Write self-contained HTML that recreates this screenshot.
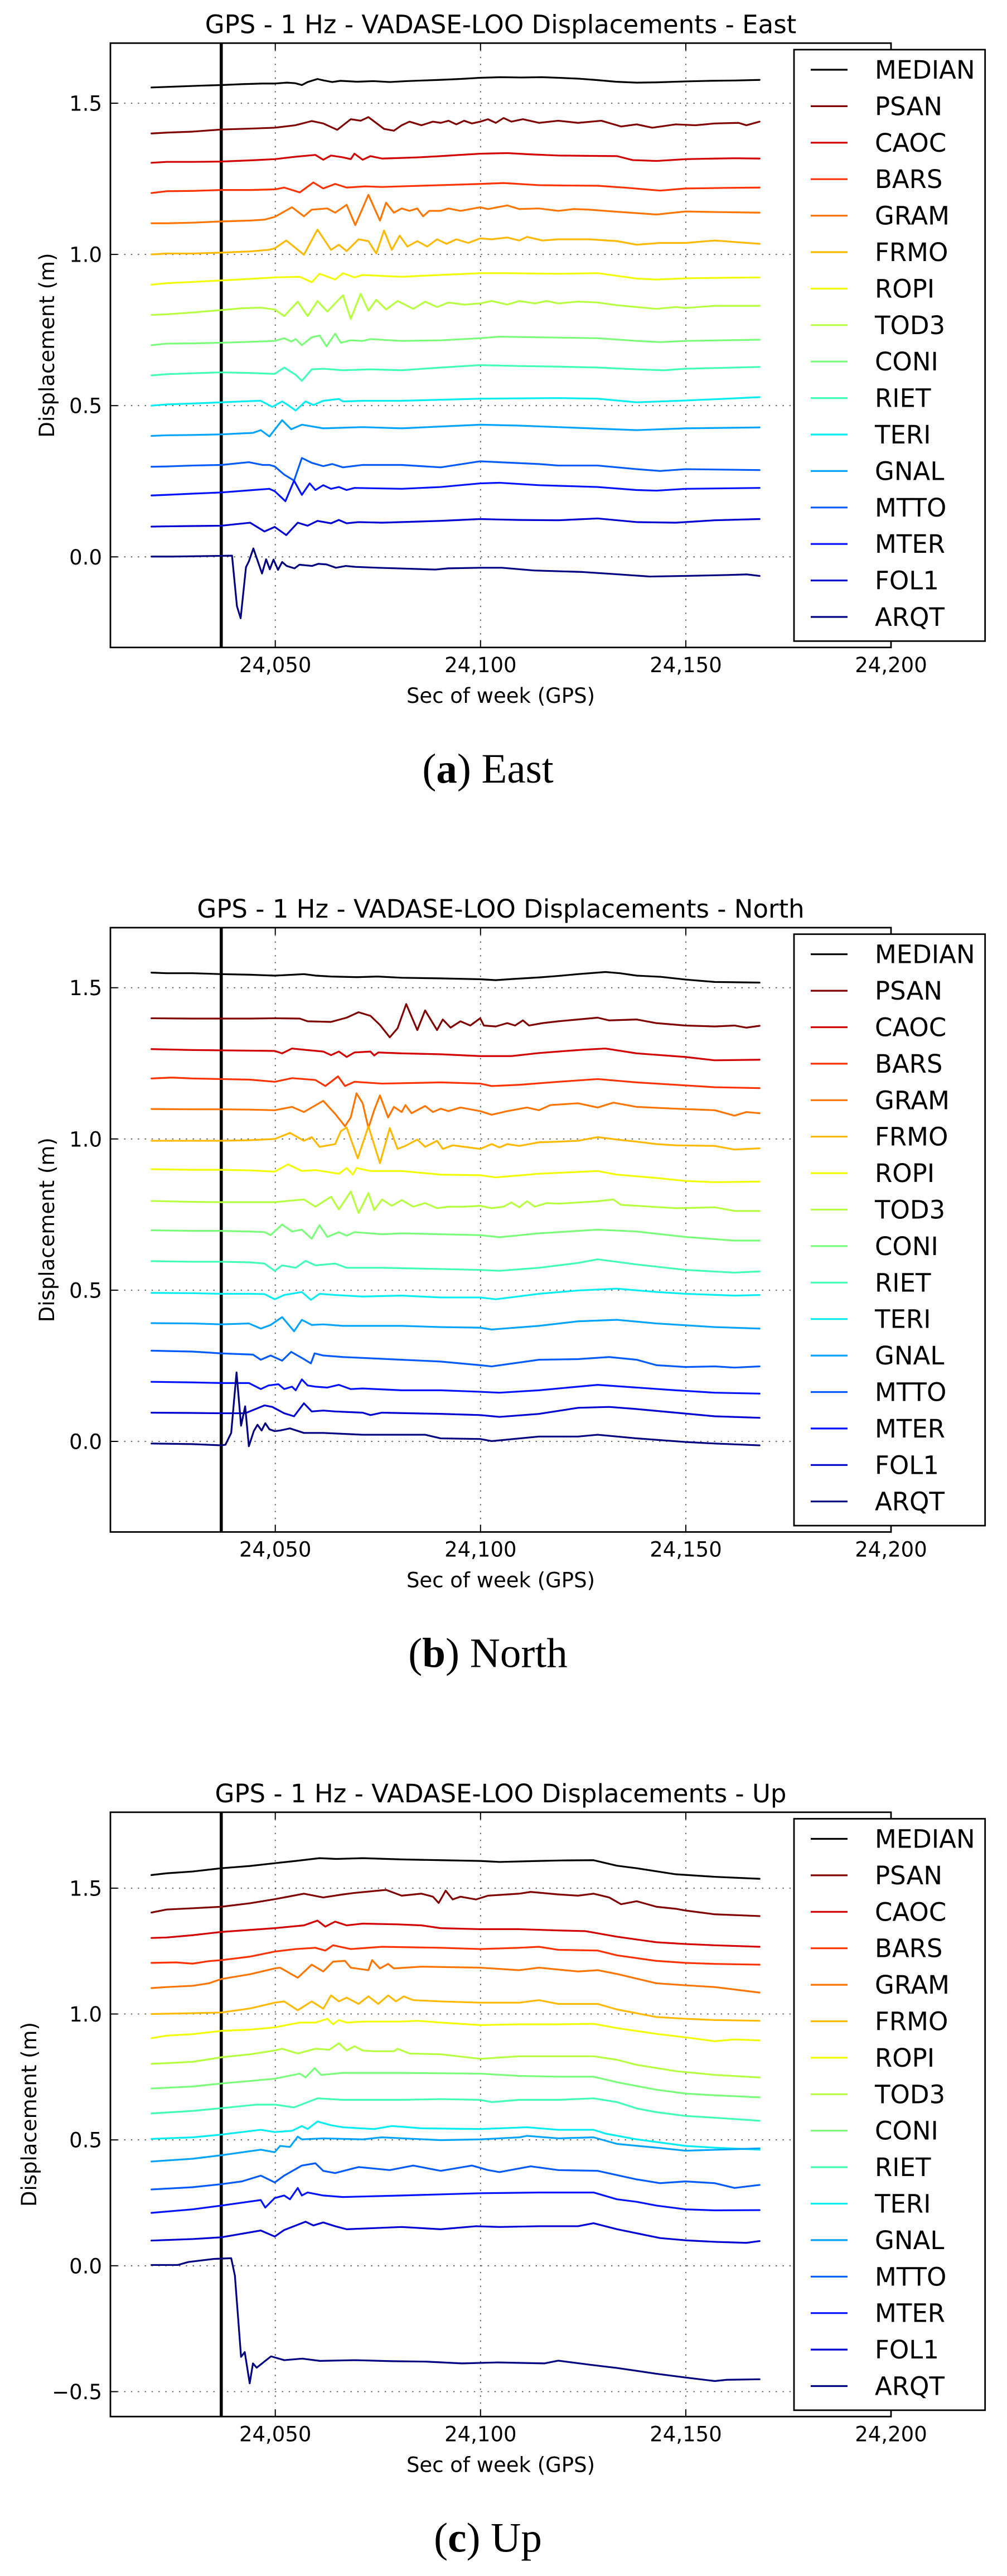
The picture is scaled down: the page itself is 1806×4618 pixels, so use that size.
<!DOCTYPE html>
<html><head><meta charset="utf-8">
<style>
html,body{margin:0;padding:0;background:#fff;}
svg{display:block;}
text{font-family:"DejaVu Sans","Liberation Sans",sans-serif;fill:#000;}
.tk{font-size:37px;}
.tl{font-size:45px;}
.lg{font-size:45px;}
.cap{font-family:"Liberation Serif",serif;font-size:75px;}
.d polyline{fill:none;stroke-width:3.2;vector-effect:non-scaling-stroke;stroke-linejoin:round;stroke-linecap:round;}
.g line{stroke:#333;stroke-width:1.8;stroke-dasharray:2.4 9.9;opacity:.85;}
.t line{stroke:#000;stroke-width:2;}
.lgd line{stroke-width:3.2;}
</style></head>
<body>
<svg width="1806" height="4618" viewBox="0 0 1806 4618" xmlns="http://www.w3.org/2000/svg">
<rect width="1806" height="4618" fill="#fff"/>

<!-- ================= PANEL A ================= -->
<g>
<g class="g">
<line x1="198" y1="185" x2="1598" y2="185"/><line x1="198" y1="456.1" x2="1598" y2="456.1"/><line x1="198" y1="727.2" x2="1598" y2="727.2"/><line x1="198" y1="998.3" x2="1598" y2="998.3"/>
<line x1="493.7" y1="77.3" x2="493.7" y2="1160.7"/><line x1="861.8" y1="77.3" x2="861.8" y2="1160.7"/><line x1="1230" y1="77.3" x2="1230" y2="1160.7"/>
</g>
<line x1="396.8" y1="77.3" x2="396.8" y2="1160.7" stroke="#000" stroke-width="5.5"/>
<g class="d" transform="matrix(7.3684,0,0,-5.422,124.32,998.3)">
<polyline stroke="#000000" points="20,155.2 26,155.5 32,155.8 37,156 42,156.3 47,156.5 50,156.5 53,156.8 55,156.6 56.6,156 58,157 60.4,158 62,157.5 64,157 66,157.4 70,157.1 74,157.3 78,157 82,157.3 86,157.5 90,157.7 95,158 100,158.4 105,158.6 110,158.5 115,158.6 119,158.4 124,158.1 128,157.7 133,157.1 138,156.8 143,156.9 150,157.2 156,157.4 162,157.5 168,157.7"/>
<polyline stroke="#800000" points="20,140 24,140.3 30,140.6 37,141.3 44,141.6 50,141.9 55,142.7 59,144.1 61.8,143.3 65.2,141.2 68.5,144.7 70.9,144.2 72.8,145.4 76.6,141.5 79,140.9 80.9,142.7 82.8,143.9 85.7,142.7 88.5,143.9 90.4,143.5 92.3,144.2 94.2,143 96.1,144.2 98,143.3 100,143.9 101.9,144.7 103.8,143.5 105.7,145.1 107.6,143.9 110.4,144.7 114.3,143.5 119,144.2 123.8,143.5 129.5,144.2 134.3,142.3 138.1,143 141.9,141.9 147.6,143 152.4,142.7 157.1,143.3 162.9,143.5 164.8,142.7 168,143.9"/>
<polyline stroke="#d20000" points="20,130.3 23.7,130.6 30,130.6 37,130.7 44,131.1 50,131.5 55.1,132.3 59.9,132.9 61.8,131.3 63.7,132.7 66.6,132.1 68.5,131.5 69.4,133.3 71.4,131.3 73.3,132.5 76.1,131.7 80.9,131.9 85,132.1 90.4,132.5 95,132.9 100,133.3 106.6,133.5 112,133.1 119,132.7 126,132.6 133.3,132.5 137.1,131.2 142.9,130.9 150,131.5 157.1,131.7 162,131.8 168,131.7"/>
<polyline stroke="#ff3200" points="20,120.3 23.7,120.9 30,121 37,121.3 44,121.3 50,121.5 52.3,122.1 56.1,120.5 59.4,123.8 61.8,121.8 64.7,123.3 67.5,122.1 72,122.5 76.1,122.3 83,122.6 90.4,122.9 100,123.3 105.7,123.6 114.3,122.9 120,122.8 128.6,122.7 136,122 143.8,121.1 150,121.8 160,122 168,122.1"/>
<polyline stroke="#ff7500" points="20,110.3 23.7,110.3 30,110.5 37,110.9 44,111.2 47.5,111.5 50,112.4 54.2,115.6 57.1,112.6 59,114.8 62.8,115.2 64.7,113.8 67.5,116.4 69.6,109.7 72.8,119.7 75.6,111.2 77.1,117.1 79,113.8 80.9,115.2 82.8,114.4 84.7,115.2 86.1,112.6 87.6,114.4 90.4,114.4 92.3,115.2 95.2,114.4 100,115.6 101.9,115 106.6,116.2 109.5,115 114.3,115.2 119,114.4 122.8,115 126.6,114.8 133.3,114.1 142.9,113.2 150,114.2 158,114 168,113.8"/>
<polyline stroke="#ffb900" points="20,100 23.7,100.3 30,100.3 37,100.6 44,101 48.5,101.5 50,102 52.8,104.6 57.1,99.9 60.4,108.2 63.7,101.5 65.6,103.2 67.5,101.1 70.4,105 72.8,104.4 74.7,100.3 76.6,107.9 78.5,101.5 80.4,106.2 82.3,102.6 84.7,104.4 87.1,102.6 89.5,105 91.8,103.5 94.2,105 97.1,103.8 100,105.3 102.8,105 106.6,105.6 109.5,104.6 111.4,105.8 115.2,104.6 119,105 126.6,105 133.3,104.4 138.1,103.2 143.8,103.8 150,103.8 157.1,104.6 168,103.5"/>
<polyline stroke="#f1fc06" points="20,90 23.7,90.5 30,90.9 37,91.4 44,91.9 50,92.4 56.1,92.6 59,90.8 60.9,93.6 64.7,91.7 66.6,93.8 69.4,92.4 71.4,93.2 80.9,92.6 90,93.2 100,93.8 106.6,93.8 119,93.6 128.6,93.8 138.1,92 142.9,91.7 150,92.1 160,92.3 168,92.4"/>
<polyline stroke="#b6ff41" points="20,80 23.7,80.2 30,80.8 37,81.6 42,82.2 46.6,82.4 50,81.8 52.3,79.6 55.6,84.4 58,79.6 60.4,84.6 62.8,81.1 66.6,86.5 68.5,78.7 70.9,87 72.8,81.4 74.7,85 77.1,81.8 79.9,84.6 83.7,82 86.6,84.4 89.5,82.6 92.3,84.1 96.1,83.4 100,83.8 102.8,84.6 106.6,83.4 109.5,84.6 113.3,83.8 116.2,84.6 119,83.8 123.8,84.4 128.6,84.1 133.3,83.2 142.9,82 147.6,82.6 150,82.3 157.1,83 168,83"/>
<polyline stroke="#7bff7b" points="20,70 23.7,70.5 30,70.6 37,70.8 44,71.1 50,71.4 52.3,72.3 54,71.2 55.1,72 56.6,70 59,72.6 60.9,73.2 62.6,69.6 64.7,73.8 66.1,70.8 68.5,71.6 71.4,71.4 73.3,72 80.9,71.4 90.4,71.6 100,72.3 104.7,72.8 114.3,72.6 128.6,72.3 138.1,71.4 143.8,71 150,71.4 168,71.8"/>
<polyline stroke="#41ffb6" points="20,60 23.7,60.4 30,60.7 37,61 44,60.8 50,60.5 52.3,62.6 55.1,60.2 56.6,58.2 59,62 61.8,62.2 66.6,61.7 73.3,62 80.9,61.7 90.4,62.6 100,63.4 109.5,63.1 119,62.9 128.6,62.6 138.1,62 144.8,61.7 150,62.2 168,62.8"/>
<polyline stroke="#06edf1" points="20,50 23.7,50.4 30,50.7 37,51.1 44,51.5 46.6,51.6 49.4,49.6 51.8,51.4 53.2,50.2 55.1,48.4 57.5,51.4 59.4,50.2 61.8,51.6 65.6,52.2 66.6,51.4 71.4,51.6 80.9,51.6 100,52.3 119,52.5 128.6,52.3 138.1,51.1 150,51.7 160,52.3 168,52.8"/>
<polyline stroke="#00a4ff" points="20,40 23.7,40.2 30,40.3 37,40.5 44.7,41 46.6,41.9 48.7,39.8 51.8,45.2 54,42.2 56.6,43.7 61.8,42.5 71.4,42.9 80.9,42.5 90.4,43.1 100,43.7 109.5,43.4 119,42.9 138.1,41.9 150,42.5 168,42.8"/>
<polyline stroke="#005bff" points="20,29.8 23.7,29.9 30,30.2 37,30.4 43.7,31.3 47,30.4 48.7,30.4 50,29.9 52.3,27.2 54.7,25.2 56.6,32.7 59,31.1 61.8,30 64,30.7 66.6,29.6 71.4,30.4 80.9,30.4 90.4,29.6 100,31.6 104.7,31.3 114.3,30.7 119,30.2 128.6,30.2 138.1,29 143.8,28.4 150,29 168,28.7"/>
<polyline stroke="#0012ff" points="20,20.3 23.7,20.5 30,20.9 37,21.3 44.7,22.1 48.7,22.5 50,21.7 52.6,18.4 54.7,25.2 56.6,20.5 58.5,24.3 59.9,22.1 61.8,23.7 63.7,22.5 65.6,23.1 67.5,22.1 69.4,22.8 80.9,22.5 90.4,23.1 100,24.3 104.7,24.5 114.3,23.7 128.6,23.1 138.1,22.1 142.9,21.9 150,22.5 168,22.8"/>
<polyline stroke="#0000d2" points="20,10 23.7,10.1 30,10.2 37,10.3 44,11.3 47.5,8.4 50,9.9 52.8,7.2 55.6,11.3 58,10.3 60.4,11.9 63.7,11.1 65.6,12.2 67.5,11.1 70.4,11.5 76.1,11.3 90.4,11.9 100,12.5 109.5,12.2 119,12.1 128.6,12.7 138.1,11.5 147.6,11.3 157.1,12.1 168,12.5"/>
<polyline stroke="#000080" points="20,0.1 25,0.1 30,0.2 35,0.3 39.6,0.4 40.8,-16.3 41.7,-20.3 43,-3.4 43.7,-1.5 44.8,2.8 46.9,-5.5 47.9,-0.8 48.8,-4.1 49.7,-0.9 50.8,-4.3 51.8,-1.7 52.9,-3 54.8,-3.8 56,-2.6 59.1,-3 60.6,-2.3 62.6,-2.5 64.9,-3.6 67.3,-3 69.6,-3.3 75,-3.6 82.1,-3.9 89.1,-4.2 92.2,-3.8 100,-3.6 105.3,-3.6 113.1,-4.5 124.9,-5 132.7,-5.7 141.3,-6.5 150,-6.3 160.2,-6 164.9,-5.8 168,-6.3"/>
</g>
<g class="t">
<line x1="198" y1="185" x2="211" y2="185"/><line x1="198" y1="456.1" x2="211" y2="456.1"/><line x1="198" y1="727.2" x2="211" y2="727.2"/><line x1="198" y1="998.3" x2="211" y2="998.3"/>
<line x1="493.7" y1="1160.7" x2="493.7" y2="1148"/><line x1="861.8" y1="1160.7" x2="861.8" y2="1148"/><line x1="1230" y1="1160.7" x2="1230" y2="1148"/>
<line x1="493.7" y1="77.3" x2="493.7" y2="90"/><line x1="861.8" y1="77.3" x2="861.8" y2="90"/><line x1="1230" y1="77.3" x2="1230" y2="90"/>
</g>
<rect x="198" y="77.3" width="1400" height="1083.4" fill="none" stroke="#000" stroke-width="2.8"/>
<g class="lgd">
<rect x="1424" y="89" width="342.7" height="1060.3" fill="#fff" stroke="#000" stroke-width="2.8"/>
<line x1="1454" y1="125" x2="1520" y2="125" stroke="#000000"/><text class="lg" x="1569" y="141">MEDIAN</text>
<line x1="1454" y1="190.4" x2="1520" y2="190.4" stroke="#800000"/><text class="lg" x="1569" y="206.4">PSAN</text>
<line x1="1454" y1="255.8" x2="1520" y2="255.8" stroke="#d20000"/><text class="lg" x="1569" y="271.8">CAOC</text>
<line x1="1454" y1="321.2" x2="1520" y2="321.2" stroke="#ff3200"/><text class="lg" x="1569" y="337.2">BARS</text>
<line x1="1454" y1="386.6" x2="1520" y2="386.6" stroke="#ff7500"/><text class="lg" x="1569" y="402.6">GRAM</text>
<line x1="1454" y1="452" x2="1520" y2="452" stroke="#ffb900"/><text class="lg" x="1569" y="468">FRMO</text>
<line x1="1454" y1="517.4" x2="1520" y2="517.4" stroke="#f1fc06"/><text class="lg" x="1569" y="533.4">ROPI</text>
<line x1="1454" y1="582.8" x2="1520" y2="582.8" stroke="#b6ff41"/><text class="lg" x="1569" y="598.8">TOD3</text>
<line x1="1454" y1="648.2" x2="1520" y2="648.2" stroke="#7bff7b"/><text class="lg" x="1569" y="664.2">CONI</text>
<line x1="1454" y1="713.6" x2="1520" y2="713.6" stroke="#41ffb6"/><text class="lg" x="1569" y="729.6">RIET</text>
<line x1="1454" y1="779" x2="1520" y2="779" stroke="#06edf1"/><text class="lg" x="1569" y="795">TERI</text>
<line x1="1454" y1="844.4" x2="1520" y2="844.4" stroke="#00a4ff"/><text class="lg" x="1569" y="860.4">GNAL</text>
<line x1="1454" y1="909.8" x2="1520" y2="909.8" stroke="#005bff"/><text class="lg" x="1569" y="925.8">MTTO</text>
<line x1="1454" y1="975.2" x2="1520" y2="975.2" stroke="#0012ff"/><text class="lg" x="1569" y="991.2">MTER</text>
<line x1="1454" y1="1040.6" x2="1520" y2="1040.6" stroke="#0000d2"/><text class="lg" x="1569" y="1056.6">FOL1</text>
<line x1="1454" y1="1106" x2="1520" y2="1106" stroke="#000080"/><text class="lg" x="1569" y="1122">ARQT</text>
</g>
<text class="tl" x="898" y="59.5" text-anchor="middle">GPS - 1 Hz - VADASE-LOO Displacements - East</text>
<text class="tk" x="183" y="198.5" text-anchor="end">1.5</text>
<text class="tk" x="183" y="469.6" text-anchor="end">1.0</text>
<text class="tk" x="183" y="740.7" text-anchor="end">0.5</text>
<text class="tk" x="183" y="1011.8" text-anchor="end">0.0</text>
<text class="tk" x="493.7" y="1205" text-anchor="middle">24,050</text>
<text class="tk" x="861.8" y="1205" text-anchor="middle">24,100</text>
<text class="tk" x="1230" y="1205" text-anchor="middle">24,150</text>
<text class="tk" x="1598" y="1205" text-anchor="middle">24,200</text>
<text class="tk" x="898" y="1260" text-anchor="middle">Sec of week (GPS)</text>
<text class="tk" transform="translate(97,619) rotate(-90)" text-anchor="middle">Displacement (m)</text>
<text class="cap" x="875" y="1403" text-anchor="middle">(<tspan font-weight="bold">a</tspan>) East</text>
</g>

<!-- ================= PANEL B ================= -->
<g transform="translate(0,1585.7)">
<g class="g">
<line x1="198" y1="185" x2="1598" y2="185"/><line x1="198" y1="456.1" x2="1598" y2="456.1"/><line x1="198" y1="727.2" x2="1598" y2="727.2"/><line x1="198" y1="998.3" x2="1598" y2="998.3"/>
<line x1="493.7" y1="77.3" x2="493.7" y2="1160.7"/><line x1="861.8" y1="77.3" x2="861.8" y2="1160.7"/><line x1="1230" y1="77.3" x2="1230" y2="1160.7"/>
</g>
<line x1="396.8" y1="77.3" x2="396.8" y2="1160.7" stroke="#000" stroke-width="5.5"/>
<g class="d" transform="matrix(7.3684,0,0,-5.422,124.32,998.3)">
<polyline stroke="#000000" points="20,155 23.7,154.8 30,154.8 37,154.5 44,154.3 50,154 57.1,154.5 60,154 63.7,153.7 70,153.5 75,153.7 80.9,153.3 90,153.1 100,152.8 103.8,152.5 108,152.9 114.3,153.4 119,153.9 123.8,154.5 130.5,155.2 134,154.8 138.1,154 144,153.6 150,152.7 157.1,151.9 168,151.7"/>
<polyline stroke="#800000" points="20,139.9 30,139.8 37,139.8 44,139.8 50,139.9 56.1,139.8 58,138.9 63.7,138.7 67.5,140.1 70.4,141.9 73.3,140.7 75.6,137.7 78,133.6 79.9,136.6 82,144.6 84.7,136 86.6,142.5 89.5,136 90.9,139.5 92.8,136.8 95.2,138.9 97.6,137.5 100,139.9 100.9,137.5 103.8,137.2 106.6,138.3 108.5,137.5 110.4,139.2 111.9,137.5 115.2,138.3 119,138.9 123.8,139.5 128.6,140.1 131.4,139.2 138.1,139.5 142.9,138.3 150,137.5 157.1,137.2 161.9,137.5 164.8,136.8 168,137.4"/>
<polyline stroke="#d20000" points="20,129.7 30,129.4 37,129.3 44,129.2 50,129.1 51.8,128.3 54.2,129.9 57.1,129.5 61.8,128.9 63.7,127.7 65.6,128.9 67.5,127.1 69.4,128.6 73.3,128.9 74.2,127.6 75.2,128.6 80.9,128.3 90.4,128 100,127.4 107.6,127.4 114.3,128.4 119,128.9 125,129.5 130.5,129.9 138.1,128.3 150,127.1 157.1,126 168,126.2"/>
<polyline stroke="#ff3200" points="20,120 25,120.3 30,120 37,119.8 44,119.6 50,118.9 54.2,120.1 59.9,119.5 62.3,117.5 63.7,118.9 65.4,120.7 67.1,117.5 69.4,118.9 76.1,118.3 90.4,118.7 100,118.3 102.8,117.5 109.5,117.9 119,118.9 128.6,119.8 138.1,118.7 150,117.7 157.1,117.1 168,116.8"/>
<polyline stroke="#ff7500" points="20,109.9 30,109.8 37,109.8 44,109.7 50,109.5 54.2,110.6 57.1,108.9 61.8,112.6 64.7,108.3 67.1,104.2 68.5,107.1 69.9,115.1 71.4,111.8 72.8,103.6 74.2,109.5 75.6,114.4 77.6,107.1 79,110.6 80.9,108.9 81.8,111.2 83.3,108.5 86.6,110.9 88.5,108.9 90.4,110 92.3,109.2 95.2,110.4 100,109.2 102.8,108 106.6,109.2 111.4,110.4 114.3,109.5 117.1,111.2 123.8,111.8 128.6,110.4 132.4,112 138.1,110.6 147.6,110 157.1,109.5 161.9,107.7 164.8,108.9 168,108.5"/>
<polyline stroke="#ffb900" points="20,99.4 30,99.4 37,99.4 44,99.6 50,100 53.7,102 57.1,99.4 59,100.6 60.9,97.4 64.7,98.3 66.1,102.6 67.5,103.8 70.2,93.6 72.8,104.2 75.6,92 78,103.6 79.9,96.7 81.8,97.7 84.7,99.8 86.6,97.4 89.5,99.4 90.9,96.7 93.3,97.9 96.1,97.4 100,96.7 102.8,98.3 104.7,97.2 106.6,98.3 109.5,97.7 114.3,98.9 119,99.1 123.8,99.4 128.6,100.6 133.3,99.8 138.1,99.1 142.9,98.3 147.6,97.9 157.1,97.7 161.9,96.5 168,96.9"/>
<polyline stroke="#f1fc06" points="20,90 30,89.8 37,89.8 44,89.6 50,89.2 53.2,91.6 56.6,89.4 60,89.7 65.6,88.5 67.5,90.4 69,88.2 69.9,90.4 73.3,89.4 80.9,89.4 90.4,88.2 100,88 103.8,87.3 114.3,88.5 128.6,89.4 133.3,88.2 142.9,87.1 150,86.1 157.1,85.7 168,85.9"/>
<polyline stroke="#b6ff41" points="20,79.5 30,79.2 37,79.1 44,79.1 50,79.1 57.1,80 59.9,77.6 63.7,80.9 65.6,76.7 68.5,82.6 70.4,75.5 72.8,82.1 74.2,76.5 76.1,80 78.5,77.9 80.9,79.8 83.7,77.6 86.6,78.8 89.5,77.1 92.3,77.6 96.1,77.6 100,77.9 102.8,77.1 105.7,77.6 107.6,79 109.5,77.4 111.4,79.4 113.3,77.6 116.2,78.8 119,78.6 128.6,79.4 132.4,80 134.3,78.2 138.1,77.9 147.6,77.1 157.1,77.4 161.9,76.2 168,76.2"/>
<polyline stroke="#7bff7b" points="20,69.8 30,69.6 37,69.6 44,69.4 47.5,69.2 49,68.2 51.8,71.7 54.2,69.4 56.6,70 59,67 60.9,71.5 62.8,67.6 65.6,69.2 67.5,68 69.4,69.2 76.1,68.5 80.9,68.8 90.4,68.5 100,68.2 104.7,67.5 114.3,68.8 128.6,70 138.1,69.4 150,67.6 161.9,66.4 168,66.4"/>
<polyline stroke="#41ffb6" points="20,59.6 30,59.4 37,59.4 44,59.2 47.5,58.8 50,56.4 51.8,58.2 55.1,57.4 57.5,59.7 59.9,58.2 64.7,58.8 67.5,57.4 76.1,57.4 90.4,57 100,56.7 104.7,56.4 114.3,57.4 123.8,59 128.6,60.2 138.1,58.5 150,56.7 161.9,55.8 168,56.2"/>
<polyline stroke="#06edf1" points="20,49.1 30,49 37,48.8 44,48.8 47.5,48.7 50,47 52.3,48.4 56.6,49.4 58.8,46.8 60.9,48.8 64.7,48.4 71.4,47.9 80.9,48.2 90.4,47.6 100,47.6 103.8,47 114.3,48.8 123.8,49.9 133.3,50.5 142.9,49.4 150,48.8 161.9,48.2 168,48.4"/>
<polyline stroke="#00a4ff" points="20,39.1 30,39 37,38.7 43.7,39 46.6,37.3 49,38.5 51.8,41.1 54.7,36.4 56.6,40.2 59,38.5 61.8,38.7 66.6,38.2 80.9,38.2 90.4,37.8 100,37.6 102.8,37 114.3,38.2 123.8,39.7 133.3,40.2 142.9,39 157.1,37.8 168,37.3"/>
<polyline stroke="#005bff" points="20,30 30,29.7 37,29.1 44.7,28.7 46.6,27 49,28.4 51.8,26.7 54,29.6 56.6,27.6 58.8,25.8 59.7,29.1 61.8,28.4 66.6,27.9 80.9,27 90.4,26.4 100,25.2 102.8,24.8 114.3,27 123.8,27.2 131.4,27.9 138.1,27 142.9,25.2 150,24.6 157.1,24.8 161.9,24.4 168,24.8"/>
<polyline stroke="#0012ff" points="20,19.7 30,19.5 37,19.3 43.7,19.3 46.6,17.3 48.5,18.5 50.9,18.9 52.3,17.3 54.2,18.1 55.1,16.9 56.6,20.5 58,18.5 59.9,18.1 62.8,17.8 65.6,18.7 68.5,17.3 71.4,17.5 80.9,16.9 90.4,16.9 100,16.4 104.7,16.1 114.3,16.9 123.8,18.1 128.6,18.7 138.1,17.8 147.6,16.9 157.1,16.1 168,15.8"/>
<polyline stroke="#0000d2" points="20,9.5 30,9.4 37,9.3 42.8,9.3 47.5,11.9 49.4,11.4 52.3,9.3 54.7,8.3 57.1,12.6 59,9.9 61.8,10.2 64.7,9.9 71.4,9.5 73.3,8.7 76.1,9.5 90.4,9.1 100,8.7 104.7,8.1 114.3,9.1 123.8,11.1 131.4,11.4 138.1,10.7 147.6,9.5 157.1,8.3 168,7.8"/>
<polyline stroke="#000080" points="20,-0.7 30,-0.9 37,-1.3 38,-1.1 39.4,2.8 40.7,22.8 41.8,5.2 42.8,11.6 43.7,-1.6 44.9,3.4 45.8,5.5 46.8,3.6 47.7,6 48.7,4 50,3.4 51.3,3.6 53.7,4.3 57.1,2.8 61.8,2.8 71.4,2.2 80.9,2.2 86.6,2.2 90.4,1 100,0.8 102.8,0.1 114.3,1.6 123.8,1.6 128.6,2.2 138.1,1 150,-0.2 157.1,-0.7 168,-1.3"/>
</g>
<g class="t">
<line x1="198" y1="185" x2="211" y2="185"/><line x1="198" y1="456.1" x2="211" y2="456.1"/><line x1="198" y1="727.2" x2="211" y2="727.2"/><line x1="198" y1="998.3" x2="211" y2="998.3"/>
<line x1="493.7" y1="1160.7" x2="493.7" y2="1148"/><line x1="861.8" y1="1160.7" x2="861.8" y2="1148"/><line x1="1230" y1="1160.7" x2="1230" y2="1148"/>
<line x1="493.7" y1="77.3" x2="493.7" y2="90"/><line x1="861.8" y1="77.3" x2="861.8" y2="90"/><line x1="1230" y1="77.3" x2="1230" y2="90"/>
</g>
<rect x="198" y="77.3" width="1400" height="1083.4" fill="none" stroke="#000" stroke-width="2.8"/>
<g class="lgd">
<rect x="1424" y="89" width="342.7" height="1060.3" fill="#fff" stroke="#000" stroke-width="2.8"/>
<line x1="1454" y1="125" x2="1520" y2="125" stroke="#000000"/><text class="lg" x="1569" y="141">MEDIAN</text>
<line x1="1454" y1="190.4" x2="1520" y2="190.4" stroke="#800000"/><text class="lg" x="1569" y="206.4">PSAN</text>
<line x1="1454" y1="255.8" x2="1520" y2="255.8" stroke="#d20000"/><text class="lg" x="1569" y="271.8">CAOC</text>
<line x1="1454" y1="321.2" x2="1520" y2="321.2" stroke="#ff3200"/><text class="lg" x="1569" y="337.2">BARS</text>
<line x1="1454" y1="386.6" x2="1520" y2="386.6" stroke="#ff7500"/><text class="lg" x="1569" y="402.6">GRAM</text>
<line x1="1454" y1="452" x2="1520" y2="452" stroke="#ffb900"/><text class="lg" x="1569" y="468">FRMO</text>
<line x1="1454" y1="517.4" x2="1520" y2="517.4" stroke="#f1fc06"/><text class="lg" x="1569" y="533.4">ROPI</text>
<line x1="1454" y1="582.8" x2="1520" y2="582.8" stroke="#b6ff41"/><text class="lg" x="1569" y="598.8">TOD3</text>
<line x1="1454" y1="648.2" x2="1520" y2="648.2" stroke="#7bff7b"/><text class="lg" x="1569" y="664.2">CONI</text>
<line x1="1454" y1="713.6" x2="1520" y2="713.6" stroke="#41ffb6"/><text class="lg" x="1569" y="729.6">RIET</text>
<line x1="1454" y1="779" x2="1520" y2="779" stroke="#06edf1"/><text class="lg" x="1569" y="795">TERI</text>
<line x1="1454" y1="844.4" x2="1520" y2="844.4" stroke="#00a4ff"/><text class="lg" x="1569" y="860.4">GNAL</text>
<line x1="1454" y1="909.8" x2="1520" y2="909.8" stroke="#005bff"/><text class="lg" x="1569" y="925.8">MTTO</text>
<line x1="1454" y1="975.2" x2="1520" y2="975.2" stroke="#0012ff"/><text class="lg" x="1569" y="991.2">MTER</text>
<line x1="1454" y1="1040.6" x2="1520" y2="1040.6" stroke="#0000d2"/><text class="lg" x="1569" y="1056.6">FOL1</text>
<line x1="1454" y1="1106" x2="1520" y2="1106" stroke="#000080"/><text class="lg" x="1569" y="1122">ARQT</text>
</g>
<text class="tl" x="898" y="59.5" text-anchor="middle">GPS - 1 Hz - VADASE-LOO Displacements - North</text>
<text class="tk" x="183" y="198.5" text-anchor="end">1.5</text>
<text class="tk" x="183" y="469.6" text-anchor="end">1.0</text>
<text class="tk" x="183" y="740.7" text-anchor="end">0.5</text>
<text class="tk" x="183" y="1011.8" text-anchor="end">0.0</text>
<text class="tk" x="493.7" y="1205" text-anchor="middle">24,050</text>
<text class="tk" x="861.8" y="1205" text-anchor="middle">24,100</text>
<text class="tk" x="1230" y="1205" text-anchor="middle">24,150</text>
<text class="tk" x="1598" y="1205" text-anchor="middle">24,200</text>
<text class="tk" x="898" y="1260" text-anchor="middle">Sec of week (GPS)</text>
<text class="tk" transform="translate(97,619) rotate(-90)" text-anchor="middle">Displacement (m)</text>
<text class="cap" x="875" y="1403" text-anchor="middle">(<tspan font-weight="bold">b</tspan>) North</text>
</g>

<!-- ================= PANEL C ================= -->
<g transform="translate(0,3171.5)">
<g class="g">
<line x1="198" y1="213.4" x2="1598" y2="213.4"/><line x1="198" y1="439" x2="1598" y2="439"/><line x1="198" y1="664.7" x2="1598" y2="664.7"/><line x1="198" y1="890.3" x2="1598" y2="890.3"/><line x1="198" y1="1116" x2="1598" y2="1116"/>
<line x1="493.7" y1="77.3" x2="493.7" y2="1160.7"/><line x1="861.8" y1="77.3" x2="861.8" y2="1160.7"/><line x1="1230" y1="77.3" x2="1230" y2="1160.7"/>
</g>
<line x1="396.8" y1="77.3" x2="396.8" y2="1160.7" stroke="#000" stroke-width="5.5"/>
<g class="d" transform="matrix(7.3684,0,0,-4.513,124.32,890.3)">
<polyline stroke="#000000" points="20,155.2 23.7,155.9 30,156.6 37,157.9 44,158.8 50,159.9 55.1,160.8 60.9,161.9 65,161.6 71.4,161.9 80.9,161.4 90.4,161.1 100,160.8 104.7,160.4 114.3,160.8 120,161 127.6,161.1 133.3,158.9 138.1,157.9 147.6,155.5 157.1,154.5 168,153.7"/>
<polyline stroke="#800000" points="20,140.3 23.7,141.5 30,142 37,142.6 44,144 50,145.6 57.1,147.8 61.8,146.3 66.6,147.5 69.4,148.1 77.1,149.3 80.9,147 85.7,147.8 88.5,146.6 89.9,144.1 91.6,149 93.3,145.5 95.2,146.6 99,145.5 101.9,147 109.5,147.8 112.3,148.5 119,147.5 123.8,147 127.6,147.8 131.4,146.3 134.3,143.6 138.1,144.8 142.9,142.6 147.6,141.8 150,141.1 157.1,139.6 168,138.9"/>
<polyline stroke="#d20000" points="20,130.2 23.7,130.4 30,131.3 37,132.6 44,133.4 50,134.1 57.1,135.2 60.4,137.1 62.3,134.7 64.7,136.7 67.5,135.2 71.4,135.9 80,135.6 85.7,135.2 90.4,134.1 100,133.7 109.5,133.7 119,133.2 125.7,132.9 133.3,130.7 142.9,128.5 150,127.8 157.1,127.3 168,126.7"/>
<polyline stroke="#ff3200" points="20,120.3 26,120.5 30,120 34,121 37,121.4 44,122.8 50,124.8 55.1,125.8 59.9,126.3 62.3,125.2 64.2,127.3 68.5,125.8 76.1,126.7 90.4,126.3 100,125.8 109.5,126.3 114.3,126.7 119,125.5 128.6,125.2 133.3,123.3 142.9,121.1 150,120.3 157.1,119.9 168,119.6"/>
<polyline stroke="#ff7500" points="20,110.3 23.7,110.7 30,111.2 34,112.2 37,113.9 44,115.8 50,118.1 51.3,118.4 55.6,114.4 59,119.6 61.8,116.9 64.2,120.8 67.1,121.1 68.5,118.4 72.8,117.4 73.7,121.4 75.6,118.1 77.6,119.9 79,118.1 85.7,118.8 100,118.4 109.5,117.4 114.3,118.4 123.8,116.9 128.6,117.4 133.3,115.9 142.9,112.2 150,111.4 157.1,110.7 168,108.5"/>
<polyline stroke="#ffb900" points="20,100 30,100.3 37,100.6 44,102.2 50,104.5 52.3,105 55.6,101.5 59,105 61.8,102.1 63.7,107.4 65.6,105 67.5,106.5 70.4,104 72.8,107 75.2,104 77.6,107.4 79.5,105 81.4,107 83.7,105.5 90.4,105 100,104.5 109.5,104.5 114.3,105.5 119,104 128.6,104 133.3,101.8 142.9,98.8 150,98.1 157.1,97.6 168,97.3"/>
<polyline stroke="#f1fc06" points="20,90.4 23.7,91.4 30,92 37,93.3 44,93.8 50,94.7 56.1,96.6 59.9,96.6 62.8,98.1 64.2,95.9 65.6,97.6 67.5,96.6 71.4,97 80.9,97 84.7,97.3 90.4,96.6 100,95.6 109.5,95.9 119,95.9 127.6,96.1 133.3,94.4 142.9,92.1 150,90.7 157.1,89.2 161.9,89.9 168,89.5"/>
<polyline stroke="#b6ff41" points="20,80.2 30,81 37,82.8 44,84 50,85.5 51.8,86.2 55.6,84.3 59.9,86.2 63.3,85.8 65.6,88.4 67.5,85.5 69.4,87.2 71.4,85.5 74.2,85.2 79,85.2 79.9,86.2 82.8,84.3 90.4,84 100,82.2 109.5,83.2 119,83.2 127.6,83.2 133.3,81.8 138.1,79.8 147.6,77.3 157.1,75.8 168,74.8"/>
<polyline stroke="#7bff7b" points="20,70.4 30,71.2 37,72.4 44,73.4 50,74.3 56.1,76.3 57.5,74.8 59.7,78.5 61.3,75.8 66.6,76.6 80.9,76.6 100,76.3 109.5,75.4 119,75.1 127.6,75.1 133.3,72.9 142.9,69.9 150,68.4 157.1,67.7 168,66.9"/>
<polyline stroke="#41ffb6" points="20,60.5 30,61.5 37,62.6 45.6,64 50,64 54.7,62.9 60.4,66.5 66.6,65.9 80.9,65.9 90.4,66.2 100,65.9 102.8,65 109.5,65.9 119,65.9 127.6,66.5 133.3,65 138.1,62.5 142.9,61 150,59.5 157.1,58.8 168,57.6"/>
<polyline stroke="#06edf1" points="20,50.4 30,51 37,52.1 46.6,54 50,53.1 54.2,53.6 56.6,55.5 58,54.3 60.4,57.3 63.7,55.8 66.6,55 74.2,54.3 78.5,55.5 85.7,54.6 100,54.3 111.4,55 119,54 127.6,54 130.5,52.5 138.1,50.2 150,47.6 157.1,46.9 168,46.1"/>
<polyline stroke="#00a4ff" points="20,41.4 30,42.5 37,43.9 46.6,46.1 50,45.1 51.3,47.6 53.7,47.2 55.6,51.3 56.6,50.2 61.8,50.6 71.4,50.2 76.1,51 90.4,49.9 100,50.2 109.5,51 111.4,51.6 119,50.6 127.6,51 133.3,48.4 142.9,46.9 150,45.7 168,46.6"/>
<polyline stroke="#005bff" points="20,30.3 30,31.2 37,32.4 42,33.5 46.6,35.8 50,33.1 52.3,35.8 56.6,39.8 59.9,40.7 61.8,37.7 64.7,36.8 70.4,39.2 78,38 83.7,39.8 90.4,37.7 98,39.8 101.9,38 104.7,37.2 112.3,39.5 119,38 128.6,37.7 138.1,34.3 143.8,32.8 150,33.5 157.1,32.8 161.9,30.9 168,32.1"/>
<polyline stroke="#0012ff" points="20,21 30,22.4 37,23.9 46.6,26.1 47.7,23.1 50,26.9 52.3,27.9 53.7,26.4 55.6,30.9 56.6,27.9 58,29.1 61.8,27.9 66.6,27.3 80.9,27.9 100,28.8 114.3,29.1 127.6,29.1 133.3,26.4 138.1,25.4 142.9,23.9 150,22.4 157.1,22 168,22.1"/>
<polyline stroke="#0000d2" points="20,10 30,10.6 37,11.3 46.6,14 50,11.6 52.3,14.2 57.5,17.5 59.4,16 61.8,17.2 64.7,15.7 67.5,14.5 80.9,15.4 90.4,14.5 99,15.7 104.7,15.4 114.3,15.7 123.8,15.7 127.6,16.9 133.3,14.5 143.8,11 150,10.1 157.1,9.5 164.8,9.1 168,9.8"/>
<polyline stroke="#000080" points="20,0.3 26.4,0.3 29,1.5 35.1,2.7 39.4,3 40.3,-3.9 41.8,-36.2 42.7,-34.3 43.9,-46.7 44.7,-38.8 45.6,-40.5 47.6,-37.9 49.1,-36 52.3,-37.5 56.7,-36.9 61,-37.8 69.7,-37.5 78.3,-37.9 87,-38.1 95.6,-38.8 104.3,-38.4 115.6,-38.8 119,-37.7 127.6,-39.5 133.3,-40.6 142.9,-42.9 150,-44.4 157.1,-45.8 160,-45.3 168,-45.1"/>
</g>
<g class="t">
<line x1="198" y1="213.4" x2="211" y2="213.4"/><line x1="198" y1="439" x2="211" y2="439"/><line x1="198" y1="664.7" x2="211" y2="664.7"/><line x1="198" y1="890.3" x2="211" y2="890.3"/><line x1="198" y1="1116" x2="211" y2="1116"/>
<line x1="493.7" y1="1160.7" x2="493.7" y2="1148"/><line x1="861.8" y1="1160.7" x2="861.8" y2="1148"/><line x1="1230" y1="1160.7" x2="1230" y2="1148"/>
<line x1="493.7" y1="77.3" x2="493.7" y2="90"/><line x1="861.8" y1="77.3" x2="861.8" y2="90"/><line x1="1230" y1="77.3" x2="1230" y2="90"/>
</g>
<rect x="198" y="77.3" width="1400" height="1083.4" fill="none" stroke="#000" stroke-width="2.8"/>
<g class="lgd">
<rect x="1424" y="89" width="342.7" height="1060.3" fill="#fff" stroke="#000" stroke-width="2.8"/>
<line x1="1454" y1="125" x2="1520" y2="125" stroke="#000000"/><text class="lg" x="1569" y="141">MEDIAN</text>
<line x1="1454" y1="190.4" x2="1520" y2="190.4" stroke="#800000"/><text class="lg" x="1569" y="206.4">PSAN</text>
<line x1="1454" y1="255.8" x2="1520" y2="255.8" stroke="#d20000"/><text class="lg" x="1569" y="271.8">CAOC</text>
<line x1="1454" y1="321.2" x2="1520" y2="321.2" stroke="#ff3200"/><text class="lg" x="1569" y="337.2">BARS</text>
<line x1="1454" y1="386.6" x2="1520" y2="386.6" stroke="#ff7500"/><text class="lg" x="1569" y="402.6">GRAM</text>
<line x1="1454" y1="452" x2="1520" y2="452" stroke="#ffb900"/><text class="lg" x="1569" y="468">FRMO</text>
<line x1="1454" y1="517.4" x2="1520" y2="517.4" stroke="#f1fc06"/><text class="lg" x="1569" y="533.4">ROPI</text>
<line x1="1454" y1="582.8" x2="1520" y2="582.8" stroke="#b6ff41"/><text class="lg" x="1569" y="598.8">TOD3</text>
<line x1="1454" y1="648.2" x2="1520" y2="648.2" stroke="#7bff7b"/><text class="lg" x="1569" y="664.2">CONI</text>
<line x1="1454" y1="713.6" x2="1520" y2="713.6" stroke="#41ffb6"/><text class="lg" x="1569" y="729.6">RIET</text>
<line x1="1454" y1="779" x2="1520" y2="779" stroke="#06edf1"/><text class="lg" x="1569" y="795">TERI</text>
<line x1="1454" y1="844.4" x2="1520" y2="844.4" stroke="#00a4ff"/><text class="lg" x="1569" y="860.4">GNAL</text>
<line x1="1454" y1="909.8" x2="1520" y2="909.8" stroke="#005bff"/><text class="lg" x="1569" y="925.8">MTTO</text>
<line x1="1454" y1="975.2" x2="1520" y2="975.2" stroke="#0012ff"/><text class="lg" x="1569" y="991.2">MTER</text>
<line x1="1454" y1="1040.6" x2="1520" y2="1040.6" stroke="#0000d2"/><text class="lg" x="1569" y="1056.6">FOL1</text>
<line x1="1454" y1="1106" x2="1520" y2="1106" stroke="#000080"/><text class="lg" x="1569" y="1122">ARQT</text>
</g>
<text class="tl" x="898" y="59.5" text-anchor="middle">GPS - 1 Hz - VADASE-LOO Displacements - Up</text>
<text class="tk" x="183" y="226.9" text-anchor="end">1.5</text>
<text class="tk" x="183" y="452.5" text-anchor="end">1.0</text>
<text class="tk" x="183" y="678.2" text-anchor="end">0.5</text>
<text class="tk" x="183" y="903.8" text-anchor="end">0.0</text>
<text class="tk" x="183" y="1129.5" text-anchor="end">−0.5</text>
<text class="tk" x="493.7" y="1205" text-anchor="middle">24,050</text>
<text class="tk" x="861.8" y="1205" text-anchor="middle">24,100</text>
<text class="tk" x="1230" y="1205" text-anchor="middle">24,150</text>
<text class="tk" x="1598" y="1205" text-anchor="middle">24,200</text>
<text class="tk" x="898" y="1260" text-anchor="middle">Sec of week (GPS)</text>
<text class="tk" transform="translate(65,619) rotate(-90)" text-anchor="middle">Displacement (m)</text>
<text class="cap" x="875" y="1403" text-anchor="middle">(<tspan font-weight="bold">c</tspan>) Up</text>
</g>
</svg>
</body></html>
